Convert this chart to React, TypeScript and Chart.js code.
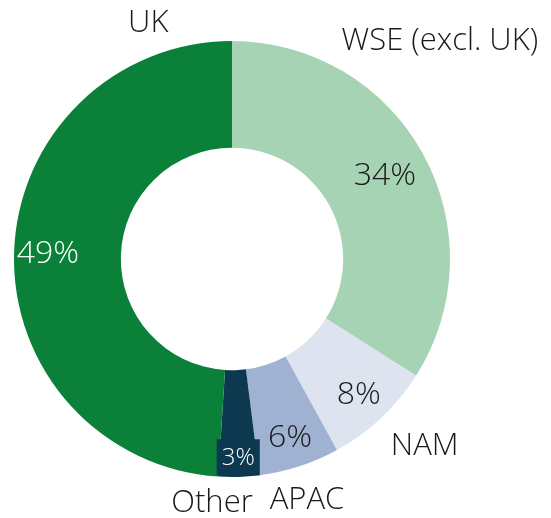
import React, { useEffect, useRef } from "react";
import { Chart, registerables } from "chart.js";

Chart.register(...registerables);

const categories = ["WSE (excl. UK)", "NAM", "APAC", "Other", "UK"];
const values = [34, 8, 6, 3, 49];
const percentLabels = ["34%", "8%", "6%", "3%", "49%"];
const colors = ["#a6d3b3", "#dde3ef", "#a0b2d1", "#0c3850", "#0a8038"];
const percentColors = ["#1a1a1a", "#1a1a1a", "#1a1a1a", "#ffffff", "#ffffff"];

// label placement: angle (deg, clockwise from top) and distance as fraction of outer radius
const catAngles = [43.5, 134, 162.7, 184.7, 340.5];
const catDist = [1.385, 1.229, 1.156, 1.119, 1.151];
const pctDist = [0.80, 0.85, 0.86, 0.91, 0.845];
const boxedPct = [false, false, false, true, false];

const FONT = '"Open Sans", "Segoe UI", sans-serif';

const labelPlugin = {
  id: "labels",
  afterDraw(chart: any) {
    const ctx = chart.ctx;
    const meta = chart.getDatasetMeta(0);
    ctx.save();
    ctx.textAlign = "center";
    ctx.textBaseline = "middle";
    meta.data.forEach((arc: any, i: number) => {
      const p = arc.getProps(["x", "y", "startAngle", "endAngle", "outerRadius"], true);
      const mid = (p.startAngle + p.endAngle) / 2;
      const r = p.outerRadius * pctDist[i];
      const tx = p.x + r * Math.cos(mid);
      const ty = p.y + r * Math.sin(mid);
      if (boxedPct[i]) {
        ctx.font = `300 24px ${FONT}`;
        const w = ctx.measureText(percentLabels[i]).width + 10;
        const h = 36;
        ctx.fillStyle = colors[i];
        ctx.fillRect(tx - w / 2, ty - h / 2, w, h);
      } else {
        ctx.font = `300 32px ${FONT}`;
      }
      ctx.fillStyle = percentColors[i];
      ctx.fillText(percentLabels[i], tx, ty + 1);

      const a = (catAngles[i] * Math.PI) / 180;
      const d = p.outerRadius * catDist[i];
      const cx = p.x + d * Math.sin(a);
      const cy = p.y - d * Math.cos(a);
      ctx.font = `300 31px ${FONT}`;
      ctx.fillStyle = "#1a1a1a";
      ctx.fillText(categories[i], cx, cy + 1);
    });
    ctx.restore();
  },
};

export default function App() {
  const ref = useRef<HTMLCanvasElement>(null);
  useEffect(() => {
    const chart = new Chart(ref.current as HTMLCanvasElement, {
      type: "doughnut",
      data: {
        labels: categories,
        datasets: [
          {
            data: values,
            backgroundColor: colors,
            borderWidth: 0,
          },
        ],
      },
      options: {
        responsive: false,
        animation: false,
        cutout: "51%",
        layout: { padding: { left: 14, right: 101, top: 41, bottom: 41 } },
        plugins: {
          legend: { display: false },
          tooltip: { enabled: false },
        },
      },
      plugins: [labelPlugin],
    });
    return () => chart.destroy();
  }, []);
  return (
    <div style={{ position: "absolute", left: 0, top: 0, width: 551, height: 518, background: "#fff" }}>
      <canvas ref={ref} width={551} height={518} />
    </div>
  );
}
